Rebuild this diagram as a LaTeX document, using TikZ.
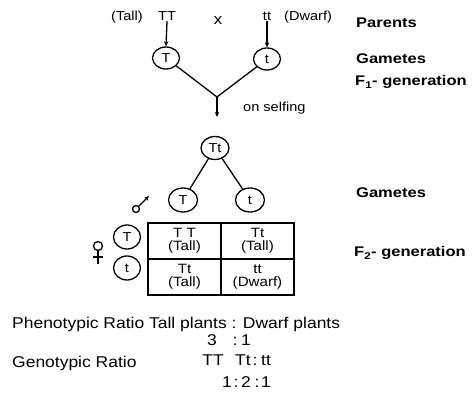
\documentclass[tikz,border=0pt]{standalone}
\usepackage{fontspec}
\setmainfont[FakeStretch=1.12]{Liberation Sans}
\newfontfamily\boldlab[FakeStretch=1.18]{Liberation Sans Bold}
\usetikzlibrary{arrows.meta,shapes.geometric}
\begin{document}
\begin{tikzpicture}[x=1pt,y=-1pt,
  txt/.style={inner sep=0pt, font=\fontsize{13}{13}\selectfont},
  big/.style={inner sep=0pt, font=\fontsize{15.6}{15.6}\selectfont},
  lab/.style={inner sep=0pt, anchor=base west, font=\boldlab\fontsize{14}{14}\selectfont},
  gam/.style={draw, ellipse, minimum width=27pt, minimum height=22pt, inner sep=0pt, line width=1.3pt, font=\fontsize{13}{13}\selectfont},
  conn/.style={line width=1.3pt},
  arr/.style={line width=1.3pt, -{Stealth[length=5pt,width=4.5pt]}},
  cell/.style={draw, line width=1.6pt, minimum width=73pt, minimum height=36pt, inner sep=0pt, align=center, font=\fontsize{13.5}{13.5}\selectfont}
]
\fill[white] (0,0) rectangle (474,398);
\useasboundingbox (0,0) rectangle (474,398);

% parents
\node[txt, anchor=base] (tall) at (127,21) {(Tall)};
\node[txt, anchor=base] (TT) at (167,21) {TT};
\node[txt, anchor=base, font=\fontsize{15}{15}\selectfont] (x) at (218,25) {x};
\node[txt, anchor=base] (tt) at (267,21) {tt};
\node[txt, anchor=base west] (dwarf) at (284,21) {(Dwarf)};

\node[gam] (g1) at (166,58) {T};
\node[gam] (g2) at (267,59) {t};
\draw[arr] (TT.south) -- (g1.north);
\draw[arr] (tt.south) -- (g2.north);

\coordinate (j) at (217,97);
\coordinate (je) at (217,117);
\draw[conn] (g1) -- (j);
\draw[conn] (g2) -- (j);
\draw[arr] (j) -- (je);
\node[txt, anchor=base west] (self) at (243,112) {on selfing};

% F1
\node[gam, minimum width=28pt, minimum height=23pt] (Tt) at (215,148) {Tt};
\node[gam, minimum width=29pt, minimum height=24pt] (m1) at (183,200) {T};
\node[gam, minimum width=29pt, minimum height=24pt] (m2) at (250,200) {t};
\draw[conn] (Tt) -- (m1);
\draw[conn] (Tt) -- (m2);

% male symbol
\node[draw, circle, line width=1.3pt, minimum size=7pt, inner sep=0pt] (mc) at (136,209) {};
\coordinate (mt) at (149,196);
\draw[arr] (mc) -- (mt);

% female symbol
\node[draw, circle, line width=1.3pt, minimum size=9pt, inner sep=0pt] (fc) at (98,246) {};
\coordinate (fb) at (98,264);
\coordinate (fl) at (93,257);
\coordinate (fr) at (103,257);
\draw[conn] (fc.south) -- (fb);
\draw[conn] (fl) -- (fr);

% female gametes
\node[gam, minimum width=27pt, minimum height=24pt] (f1) at (127,237) {T};
\node[gam, minimum width=27pt, minimum height=24pt] (f2) at (127,268) {t};

% table
\node[cell] (c11) at (184.5,241) {T T\\(Tall)};
\node[cell] (c12) at (257.5,241) {Tt\\(Tall)};
\node[cell] (c21) at (184.5,277) {Tt\\(Tall)};
\node[cell] (c22) at (257.5,277) {tt\\(Dwarf)};

% right labels
\node[lab] (lp) at (356,28) {Parents};
\node[lab] (lg1) at (356,64) {Gametes};
\node[lab] (lf1) at (355,86) {F\textsubscript{1}- generation};
\node[lab] (lg2) at (356,198) {Gametes};
\node[lab] (lf2) at (354,257) {F\textsubscript{2}- generation};

% ratios
\node[big, anchor=base west] (pheno) at (12,328) {Phenotypic Ratio Tall plants : Dwarf plants};
\node[big, anchor=base] (p3) at (212,345) {3};
\node[big, anchor=base] (pc) at (235,345) {:};
\node[big, anchor=base] (p1) at (246,345) {1};
\node[big, anchor=base west] (geno) at (12,367) {Genotypic Ratio};
\node[big, anchor=base] (gTT) at (213,365) {TT};
\node[big, anchor=base] (gTt) at (243,365) {Tt};
\node[big, anchor=base] (gc) at (255,365) {:};
\node[big, anchor=base] (gtt) at (266,365) {tt};
\node[big, anchor=base] (r1) at (227,387) {1};
\node[big, anchor=base] (rc1) at (236,387) {:};
\node[big, anchor=base] (r2) at (246,387) {2};
\node[big, anchor=base] (rc2) at (257,387) {:};
\node[big, anchor=base] (r3) at (266,387) {1};
\end{tikzpicture}
\end{document}
